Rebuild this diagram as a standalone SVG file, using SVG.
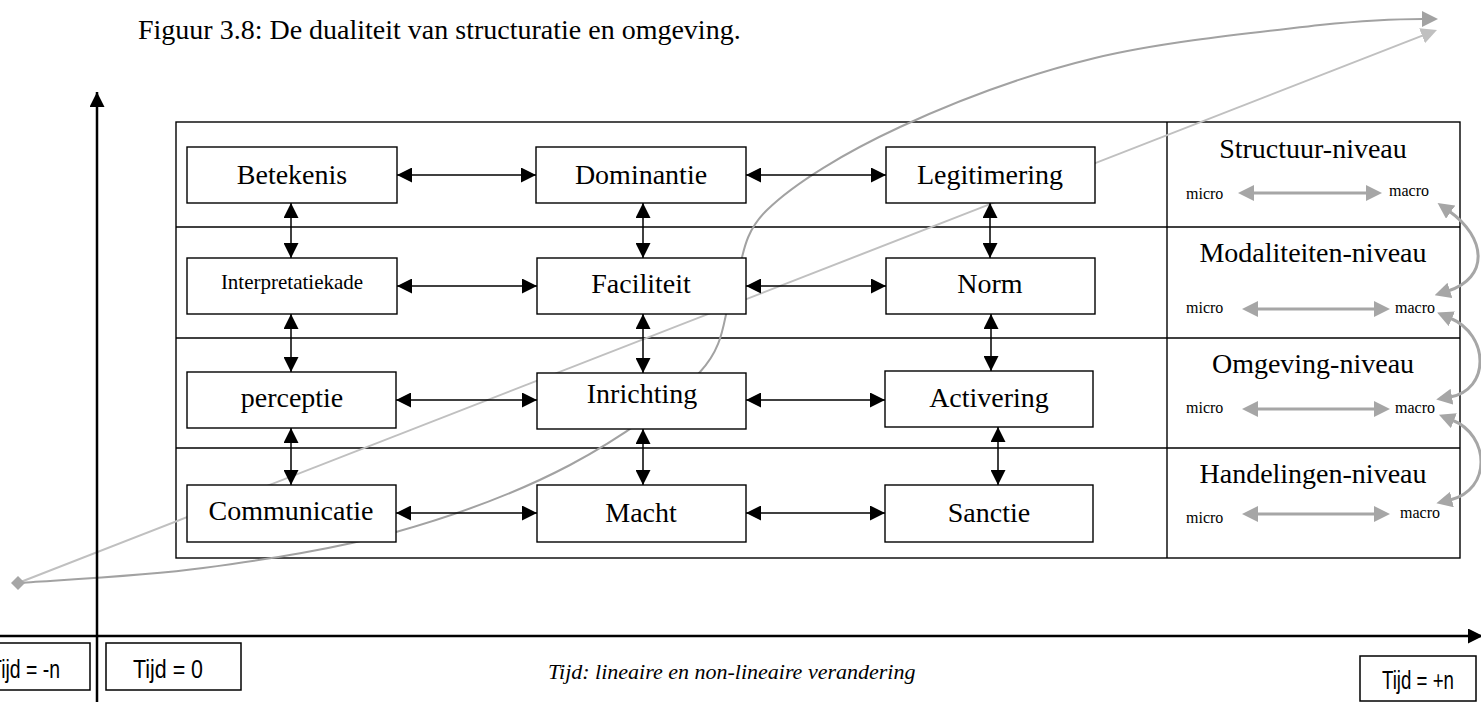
<svg xmlns="http://www.w3.org/2000/svg" width="1481" height="702" viewBox="0 0 1481 702">
<style>
.lbl{font-family:"Liberation Serif","Times New Roman",serif;font-size:28px;fill:#000;text-anchor:middle}
.sm{font-size:21px}
.mm{font-family:"Liberation Serif","Times New Roman",serif;font-size:16px;fill:#000}
.box{fill:#fff;stroke:#000;stroke-width:1.4}
.frm{fill:none;stroke:#000;stroke-width:1.4}
.ba{stroke:#000;stroke-width:1.5;fill:none;marker-start:url(#ab);marker-end:url(#ab)}
.ga{stroke:#a6a6a6;stroke-width:3;fill:none;marker-start:url(#ag);marker-end:url(#ag)}
.sans{font-family:"Liberation Sans Narrow","Liberation Sans",Arial,sans-serif;font-size:25px;fill:#000}
</style>
<defs>
<marker id="ab" viewBox="0 0 15 15" refX="15" refY="7.5" markerWidth="15" markerHeight="15" markerUnits="userSpaceOnUse" orient="auto-start-reverse"><path d="M0,0 L15,7.5 L0,15 z" fill="#000"/></marker>
<marker id="ag" viewBox="0 0 16 16" refX="2" refY="8" markerWidth="16" markerHeight="16" markerUnits="userSpaceOnUse" orient="auto-start-reverse"><path d="M0,0 L16,8 L0,16 z" fill="#a6a6a6"/></marker>
<marker id="ad" viewBox="0 0 16 16" refX="1" refY="8" markerWidth="16" markerHeight="16" markerUnits="userSpaceOnUse" orient="auto"><path d="M0,0 L16,8 L0,16 z" fill="#a2a2a2"/></marker>
<marker id="al" viewBox="0 0 16 16" refX="1" refY="8" markerWidth="16" markerHeight="16" markerUnits="userSpaceOnUse" orient="auto"><path d="M0,0 L16,8 L0,16 z" fill="#c0c0c0"/></marker>
</defs>
<rect width="1481" height="702" fill="#fff"/>

<text x="138" y="39" font-family="Liberation Serif, Times New Roman, serif" font-size="28">Figuur 3.8: De dualiteit van structuratie en omgeving.</text>

<g id="frame">
<rect class="frm" x="176" y="122" width="1284" height="436"/>
<line class="frm" x1="1167" y1="122" x2="1167" y2="558"/>
<line class="frm" x1="176" y1="227" x2="1460" y2="227"/>
<line class="frm" x1="176" y1="338" x2="1460" y2="338"/>
<line class="frm" x1="176" y1="448" x2="1460" y2="448"/>
</g>

<g id="trends">
<line x1="18" y1="583" x2="1423" y2="35.4" stroke="#c0c0c0" stroke-width="2" marker-end="url(#al)"/>
<path d="M18,583 C48.8,580.5 140,576.5 203,568 C266,559.5 334.8,549.2 396,532 C457.2,514.8 519.3,491.7 570,465 C620.7,438.3 672.8,401.2 700,372 C727.2,342.8 721.8,317 733,290 C744.2,263 739.2,237.2 767,210 C794.8,182.8 845.3,152.3 900,127 C954.7,101.7 1025,75 1095,58 C1165,41 1265.3,31.5 1320,25 C1360,21 1400,19 1423,19" fill="none" stroke="#a2a2a2" stroke-width="2" marker-end="url(#ad)"/>
<polygon points="18,576 25,583 18,590 11,583" fill="#a6a6a6"/>
</g>

<g id="axes">
<line x1="97" y1="702" x2="97" y2="92" stroke="#000" stroke-width="2.5" marker-end="url(#ab)"/>
<line x1="0" y1="636" x2="1483" y2="636" stroke="#000" stroke-width="2.5" marker-end="url(#ab)"/>
</g>

<g id="n-betekenis"><rect class="box" x="187" y="147" width="210" height="56"/><text class="lbl" x="292" y="184">Betekenis</text></g>
<g id="n-dominantie"><rect class="box" x="536" y="147" width="210" height="56"/><text class="lbl" x="641" y="184">Dominantie</text></g>
<g id="n-legitimering"><rect class="box" x="886" y="147" width="209" height="56"/><text class="lbl" x="990" y="184">Legitimering</text></g>

<g id="n-interpretatiekade"><rect class="box" x="187" y="258" width="210" height="56"/><text class="lbl sm" x="292" y="289">Interpretatiekade</text></g>
<g id="n-faciliteit"><rect class="box" x="537" y="258" width="209" height="56"/><text class="lbl" x="641" y="293">Faciliteit</text></g>
<g id="n-norm"><rect class="box" x="886" y="258" width="209" height="56"/><text class="lbl" x="990" y="293">Norm</text></g>

<g id="n-perceptie"><rect class="box" x="187" y="372" width="209" height="56"/><text class="lbl" x="292" y="407">perceptie</text></g>
<g id="n-inrichting"><rect class="box" x="537" y="373" width="209" height="56"/><text class="lbl" x="642" y="403" font-size="22">Inrichting</text></g>
<g id="n-activering"><rect class="box" x="885" y="371" width="208" height="56"/><text class="lbl" x="989" y="407">Activering</text></g>

<g id="n-communicatie"><rect class="box" x="187" y="485" width="209" height="57"/><text class="lbl" x="291" y="520">Communicatie</text></g>
<g id="n-macht"><rect class="box" x="537" y="485" width="209" height="57"/><text class="lbl" x="641" y="522">Macht</text></g>
<g id="n-sanctie"><rect class="box" x="885" y="485" width="208" height="57"/><text class="lbl" x="989" y="522">Sanctie</text></g>

<g id="connectors">
<line class="ba" x1="397" y1="175" x2="536" y2="175"/>
<line class="ba" x1="746" y1="175" x2="886" y2="175"/>
<line class="ba" x1="397" y1="286" x2="537" y2="286"/>
<line class="ba" x1="746" y1="286" x2="886" y2="286"/>
<line class="ba" x1="396" y1="400" x2="537" y2="400"/>
<line class="ba" x1="746" y1="400" x2="885" y2="400"/>
<line class="ba" x1="396" y1="513" x2="537" y2="513"/>
<line class="ba" x1="746" y1="513" x2="885" y2="513"/>
<line class="ba" x1="291" y1="203" x2="291" y2="258"/>
<line class="ba" x1="291" y1="314" x2="291" y2="372"/>
<line class="ba" x1="291" y1="428" x2="291" y2="485"/>
<line class="ba" x1="643" y1="203" x2="643" y2="258"/>
<line class="ba" x1="643" y1="314" x2="643" y2="373"/>
<line class="ba" x1="643" y1="429" x2="643" y2="485"/>
<line class="ba" x1="990" y1="203" x2="990" y2="258"/>
<line class="ba" x1="991" y1="314" x2="991" y2="371"/>
<line class="ba" x1="998" y1="427" x2="998" y2="485"/>
</g>

<g id="level-structuur">
<text class="lbl" x="1313" y="158">Structuur-niveau</text>
<text class="mm" x="1186" y="199">micro</text>
<text class="mm" x="1389" y="196">macro</text>
</g>
<g id="level-modaliteiten">
<text class="lbl" x="1313" y="262">Modaliteiten-niveau</text>
<text class="mm" x="1186" y="313">micro</text>
<text class="mm" x="1395" y="313">macro</text>
</g>
<g id="level-omgeving">
<text class="lbl" x="1313" y="373">Omgeving-niveau</text>
<text class="mm" x="1186" y="413">micro</text>
<text class="mm" x="1395" y="413">macro</text>
</g>
<g id="level-handelingen">
<text class="lbl" x="1313" y="483">Handelingen-niveau</text>
<text class="mm" x="1186" y="523">micro</text>
<text class="mm" x="1400" y="518">macro</text>
</g>

<g id="level-connectors">
<line class="ga" x1="1252" y1="193" x2="1368" y2="193"/>
<line class="ga" x1="1256" y1="309" x2="1376" y2="309"/>
<line class="ga" x1="1256" y1="409" x2="1376" y2="409"/>
<line class="ga" x1="1256" y1="514" x2="1376" y2="514"/>
<path class="ga" d="M1449,211 C1487,238 1489,278 1448,291"/>
<path class="ga" d="M1450,318 C1490,335 1490,390 1450,397"/>
<path class="ga" d="M1452,420 C1490,435 1492,490 1450,500"/>
</g>

<g id="time">
<rect x="-50" y="643" width="140" height="47" fill="none" stroke="#000" stroke-width="1.5"/>
<text class="sans" x="-10" y="678" textLength="70" lengthAdjust="spacingAndGlyphs">Tijd = -n</text>
<rect x="106" y="643" width="135" height="47" fill="none" stroke="#000" stroke-width="1.5"/>
<text class="sans" x="133" y="678" textLength="70" lengthAdjust="spacingAndGlyphs">Tijd = 0</text>
<rect x="1360" y="656" width="116" height="45" fill="none" stroke="#000" stroke-width="1.5"/>
<text class="sans" x="1382" y="689" textLength="72" lengthAdjust="spacingAndGlyphs">Tijd = +n</text>
<text x="548" y="679" font-family="Liberation Serif, Times New Roman, serif" font-style="italic" font-size="22">Tijd: lineaire en non-lineaire verandering</text>
</g>
</svg>
